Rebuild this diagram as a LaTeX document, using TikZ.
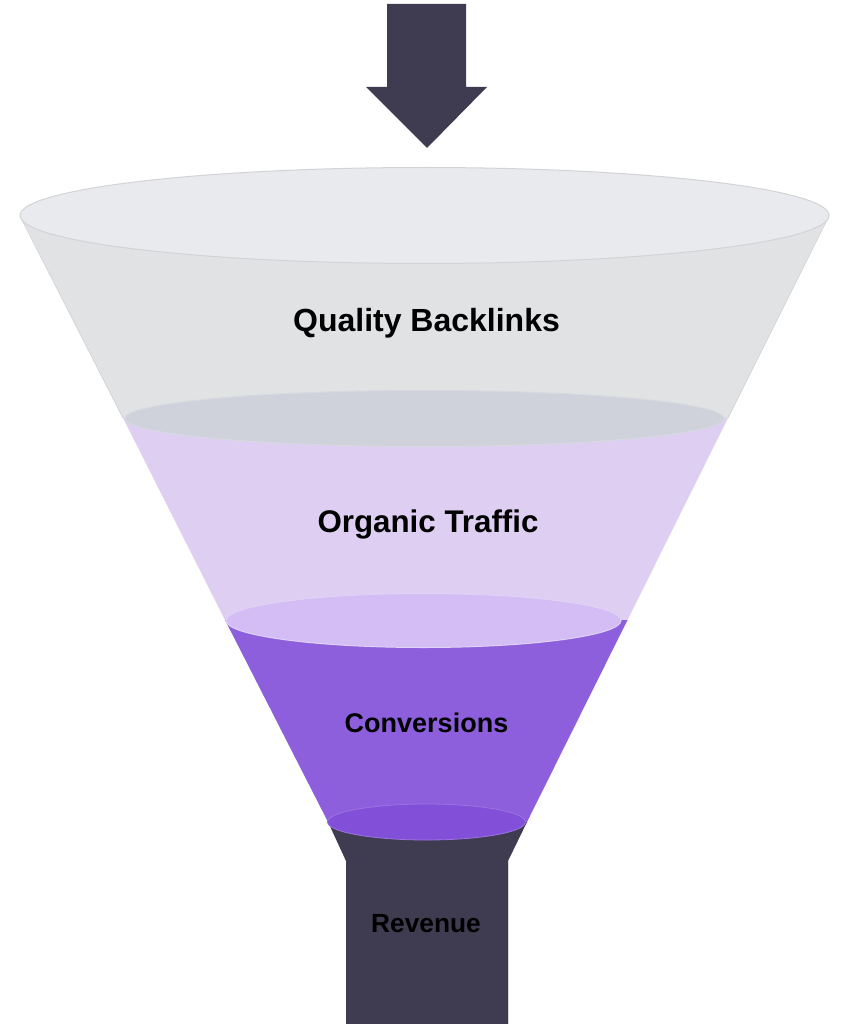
\documentclass[tikz,border=0pt]{standalone}
\usepackage{fontspec}
\setmainfont{Liberation Sans}
\definecolor{rimA}{HTML}{E9EAED}
\definecolor{bandA}{HTML}{E1E2E4}
\definecolor{lineA}{HTML}{D3D3D7}
\definecolor{rimB}{HTML}{CFD2DA}
\definecolor{bandB}{HTML}{DDCEF2}
\definecolor{rimC}{HTML}{D3BDF4}
\definecolor{bandC}{HTML}{8E5FDC}
\definecolor{rimD}{HTML}{8250D8}
\definecolor{darkN}{HTML}{3F3C51}
\tikzset{
  lbl/.style={anchor=base, inner sep=0pt, text=black, font=\bfseries},
}
\begin{document}
\begin{tikzpicture}[x=1pt,y=-1pt]
\useasboundingbox (0,0) rectangle (849,1024);
% arrow
\fill[darkN] (387,4) -- (466,4) -- (466,87) -- (487,87) -- (427,148) -- (366,87) -- (387,87) -- cycle;
% bands
\fill[bandA] (20,215) -- (829,215) -- (728,418) -- (123,418) -- cycle;
\draw[lineA, line width=0.8pt] (21,218) -- (123,418);
\draw[lineA, line width=0.8pt] (828,218) -- (728,418);
\fill[bandB] (123,418) -- (728,418) -- (627.5,620) -- (225,620) -- cycle;
\fill[bandC] (225,620) -- (627.5,620) -- (527,822) -- (328,822) -- cycle;
% neck
\fill[darkN] (328,822) -- (527,822) -- (508,861) -- (508,1024) -- (346,1024) -- (346,861) -- cycle;
\draw[white!80!darkN, line width=0.6pt] (508,861) -- (508,1024);
% rims
\filldraw[fill=rimA, draw=lineA, line width=1pt] (424.5,215.5) ellipse [x radius=404.5, y radius=48];
\filldraw[fill=rimB, draw=rimB!85!white, line width=1pt] (424.5,418.5) ellipse [x radius=299.5, y radius=28];
\filldraw[fill=rimC, draw=rimC!70!white, line width=1pt] (423.5,620.5) ellipse [x radius=197.5, y radius=27];
\filldraw[fill=rimD, draw=rimD!80!white, line width=0.8pt] (426.5,822) ellipse [x radius=99, y radius=18];
% labels
\node[lbl, font=\bfseries\fontsize{32}{38}\selectfont] (qb) at (426.5,331) {Quality Backlinks};
\node[lbl, font=\bfseries\fontsize{31.3}{37}\selectfont] (ot) at (428,532) {Organic Traffic};
\node[lbl, font=\bfseries\fontsize{27}{32}\selectfont] (cv) at (426.5,732) {Conversions};
\node[lbl, font=\bfseries\fontsize{26.3}{31}\selectfont] (rv) at (426,932) {Revenue};
\end{tikzpicture}
\end{document}
